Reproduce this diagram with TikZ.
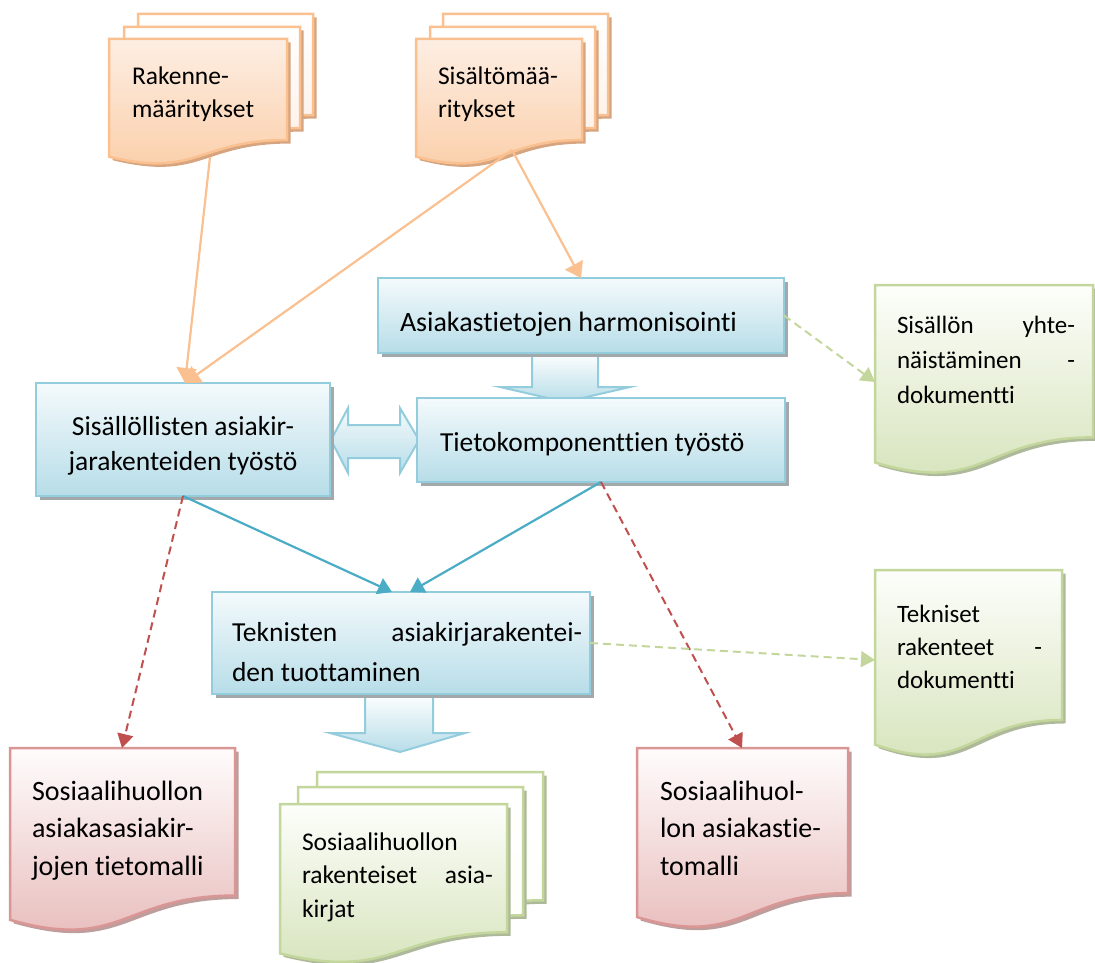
\documentclass[tikz,border=0pt]{standalone}
\usepackage{fontspec}
\setmainfont{Carlito}[Ligatures={NoCommon,NoContextual}]
\usetikzlibrary{arrows.meta,calc,shadows}

\definecolor{blueB}{HTML}{93CDDD}
\definecolor{blueTop}{HTML}{F4FAFC}
\definecolor{blueBot}{HTML}{B7DDE8}
\definecolor{blueSh}{HTML}{A3A9AB}
\definecolor{orB}{HTML}{FAC090}
\definecolor{orTop}{HTML}{FDEEE3}
\definecolor{orBot}{HTML}{FBCDA6}
\definecolor{orSh}{HTML}{D6A47E}
\definecolor{grB}{HTML}{C3D69B}
\definecolor{grTop}{HTML}{FDFEFB}
\definecolor{grBot}{HTML}{D4E2B8}
\definecolor{grSh}{HTML}{AEB89A}
\definecolor{rdB}{HTML}{D99694}
\definecolor{rdTop}{HTML}{FFFCFC}
\definecolor{rdBot}{HTML}{E6B9B8}
\definecolor{rdSh}{HTML}{BE9E9D}
\definecolor{teal}{HTML}{4BACC6}
\definecolor{rdLine}{HTML}{C0504D}

% flowchart "document" outline: left x, top y, right x, height
\newcommand\docpath[4]{(#1,#2) -- (#3,#2) -- (#3,{#2+0.802*(#4)})
  .. controls ({0.5*(#1+#3)},{#2+0.802*(#4)}) and ({0.5*(#1+#3)},{#2+1.107*(#4)})
  .. (#1,{#2+0.934*(#4)}) -- cycle}

% one document page with its shadow
\newcommand\docpage[8]{%
  \fill[#6, xshift=3.5pt, yshift=-3.5pt] \docpath{#1}{#2}{#3}{#4};
  \draw[#5, line width=2.5pt, top color=#7, bottom color=#8] \docpath{#1}{#2}{#3}{#4};}

\tikzset{
  every node/.style={inner sep=0pt, outer sep=0pt},
  bbox/.style={draw=blueB, line width=2.5pt, top color=blueTop, bottom color=blueBot,
    drop shadow={shadow xshift=3.5pt, shadow yshift=-3.5pt, fill=blueSh, opacity=1}},
  boxtxt/.style={font=\fontsize{27.5}{35}\selectfont, anchor=base west},
  doctxt/.style={anchor=base west, align=flush left},
  blockarrow/.style={draw=blueB, line width=2pt, top color=white, bottom color=blueBot},
  orarrow/.style={draw=orB, line width=2.2pt, -{Triangle[width=20pt,length=15pt]}},
  tlarrow/.style={draw=teal, line width=2.2pt, -{Triangle[width=17pt,length=14pt]}},
  rdarrow/.style={draw=rdLine, line width=2pt, dash pattern=on 8pt off 5pt,
    -{Triangle[width=16pt,length=14pt]}},
  grarrow/.style={draw=grB, line width=2pt, dash pattern=on 8pt off 5pt,
    -{Triangle[width=16pt,length=14pt]}},
}

\begin{document}
\begin{tikzpicture}[x=1pt, y=-1pt]
\useasboundingbox (0,0) rectangle (1095,963);

% ---- input document stacks ----
\docpage{138}{14}{313}{126}{orB}{orSh}{white}{orTop}
\docpage{124}{27}{300}{126}{orB}{orSh}{white}{orTop}
\docpage{109}{39}{287}{126}{orB}{orSh}{orTop}{orBot}
\node[doctxt, text width=150pt, font=\fontsize{25.5}{33}\selectfont] (rak) at (132,85) {Rakenne-\\määritykset};
\coordinate (rakout) at (210,157);

\docpage{443}{14}{608}{126}{orB}{orSh}{white}{orTop}
\docpage{430}{27}{595}{126}{orB}{orSh}{white}{orTop}
\docpage{416}{39}{582}{126}{orB}{orSh}{orTop}{orBot}
\node[doctxt, text width=140pt, font=\fontsize{25.5}{33}\selectfont] (sis) at (438,85) {Sisältömää-\\ritykset};
\coordinate (sisout) at (512,150);

% ---- output documents ----
\docpage{875}{285}{1093}{190}{grB}{grSh}{grTop}{grBot}
\node[doctxt, text width=178pt, font=\fontsize{25}{35}\selectfont] (yht) at (897,333)
  {Sisällön\hfill yhte-\\näistäminen\hfill -\\dokumentti};
\coordinate (yhtin) at (875,382);

\docpage{875}{570}{1062}{187}{grB}{grSh}{grTop}{grBot}
\node[doctxt, text width=145pt, font=\fontsize{25}{33}\selectfont] (tekdoc) at (897,622)
  {Tekniset\\rakenteet\hfill -\\dokumentti};
\coordinate (tekdocin) at (875,660);

\docpage{10}{748}{235}{184}{rdB}{rdSh}{rdTop}{rdBot}
\node[doctxt, text width=195pt, font=\fontsize{28}{37.5}\selectfont] (malliA) at (32,800)
  {Sosiaalihuollon\\asiakasasiakir-\\jojen tietomalli};
\coordinate (malliAin) at (122,748);

\docpage{637}{748}{848}{181}{rdB}{rdSh}{rdTop}{rdBot}
\node[doctxt, text width=180pt, font=\fontsize{28}{37.5}\selectfont] (malliB) at (660,800)
  {Sosiaalihuol-\\lon asiakastie-\\tomalli};
\coordinate (malliBin) at (742,748);

\docpage{317}{772}{543}{160}{grB}{grSh}{white}{grTop}
\docpage{298}{787}{523}{160}{grB}{grSh}{white}{grTop}
\docpage{280}{804}{507}{160}{grB}{grSh}{grTop}{grBot}
\node[doctxt, text width=191pt, font=\fontsize{25.5}{33.5}\selectfont] (rakasia) at (302,850)
  {Sosiaalihuollon\\rakenteiset\hfill asia-\\kirjat};

% ---- block arrows ----
\draw[blockarrow] (532,352) -- (598,352) -- (598,387) -- (630,387) -- (565,402)
  -- (500,387) -- (532,387) -- cycle;
\draw[blockarrow] (365,693) -- (433,693) -- (433,733) -- (465,733) -- (400,752)
  -- (330,733) -- (365,733) -- cycle;
\draw[blockarrow, top color=blueTop, bottom color=blueBot]
  (331,440) -- (348,408) -- (348,425) -- (400,425) -- (400,408) -- (419,440)
  -- (400,473) -- (400,458) -- (348,458) -- (348,473) -- cycle;

% ---- process boxes ----
\node[bbox, minimum width=406pt, minimum height=75pt] (harm) at (581,315.5) {};
\node[bbox, minimum width=368pt, minimum height=84pt] (tieto) at (601,440) {};
\node[bbox, minimum width=294pt, minimum height=113pt] (sisallo) at (183,439.5) {};
\node[bbox, minimum width=378pt, minimum height=102pt] (tek) at (401,643) {};

\node[boxtxt, font=\fontsize{28}{35}\selectfont] (harmtxt) at (400,331) {Asiakastietojen harmonisointi};
\node[boxtxt] (tietotxt) at (440,451) {Tietokomponenttien työstö};
\node[boxtxt, anchor=base, text width=260pt, align=flush center] (sisallotxt) at (183,435)
  {Sisällöllisten asiakir-\\jarakenteiden työstö};
\node[boxtxt, text width=350pt, align=flush left, font=\fontsize{27.5}{40}\selectfont] (tektxt) at (232,641)
  {Teknisten\hfill asiakirjarakentei-\\den tuottaminen};

% ---- connectors ----
\draw[orarrow] (rakout) -- ([xshift=2pt]sisallo.north);
\draw[orarrow] (sisout) -- ([xshift=2pt]sisallo.north);
\draw[orarrow] (sisout) -- (harm.north);
\draw[grarrow] (harm.east) -- (yhtin);
\draw[tlarrow] (sisallo.south) -- ([xshift=-9pt]tek.north);
\draw[tlarrow] (tieto.south) -- ([xshift=9pt]tek.north);
\draw[rdarrow] (sisallo.south) -- (malliAin);
\draw[rdarrow] (tieto.south) -- (malliBin);
\draw[grarrow] (tek.east) -- (tekdocin);
\end{tikzpicture}
\end{document}
